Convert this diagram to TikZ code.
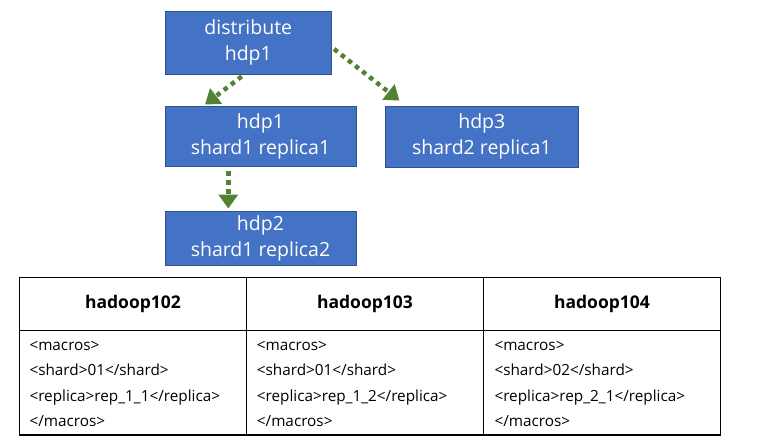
\documentclass[tikz,border=0pt]{standalone}
\usepackage{fontspec}
\setmainfont{Open Sans}
\usetikzlibrary{arrows.meta}
\definecolor{boxblue}{HTML}{4472C4}
\definecolor{boxedge}{HTML}{2F528F}
\definecolor{arrgreen}{HTML}{548235}
\begin{document}
\begin{tikzpicture}[x=1pt,y=-1pt,
  bluebox/.style={draw=boxedge,line width=0.8pt,fill=boxblue,text=white,align=center,
    inner sep=0pt,font=\fontsize{19.5}{26}\selectfont},
  dotarrow/.style={draw=arrgreen,line width=4.5pt,dash pattern=on 4.5pt off 4.5pt,
    -{Triangle[width=19pt,length=14pt]}},
  cell/.style={anchor=base west,inner sep=0pt,font=\fontsize{15.3}{18}\selectfont},
  head/.style={anchor=center,inner sep=0pt,font=\fontsize{17.5}{20}\selectfont\bfseries},
  grid/.style={line width=1.2pt,black}]
\useasboundingbox (0,0) rectangle (769,447);
\node[bluebox,minimum width=166.7pt,minimum height=63pt] (dist) at (248.3,42.5) {distribute\\hdp1};
\node[bluebox,minimum width=191pt,minimum height=60.7pt] (hdp1) at (260.5,136.3) {hdp1\\shard1 replica1};
\node[bluebox,minimum width=192.3pt,minimum height=61pt] (hdp3) at (481.8,136.5) {hdp3\\shard2 replica1};
\node[bluebox,minimum width=191pt,minimum height=54.7pt] (hdp2) at (260.5,238.3) {hdp2\\shard1 replica2};
\draw[dotarrow] ([xshift=-6.6pt,yshift=-2pt]dist.south) -- ([xshift=-55.5pt,yshift=1pt]hdp1.north);
\draw[dotarrow] ([xshift=2pt,yshift=-6.5pt]dist.east) -- ([xshift=14.2pt,yshift=5pt]hdp3.north west);
\draw[dotarrow] ([xshift=-32.2pt,yshift=-4pt]hdp1.south) -- ([xshift=-32.2pt,yshift=2pt]hdp2.north);
% table
\coordinate (tl) at (19.3,277.3);
\coordinate (br) at (720.7,435);
\draw[grid] (tl) rectangle (br);
\draw[grid] (19.3,330.7) -- (720.7,330.7);
\draw[grid] (246.7,277.3) -- (246.7,435);
\draw[grid] (483.3,277.3) -- (483.3,435);
\node[head] (h1) at (133,304) {hadoop102};
\node[head] (h2) at (365,304) {hadoop103};
\node[head] (h3) at (602,304) {hadoop104};
\foreach \x/\n/\s/\r in {29.3/a/01/1\_1, 256.7/b/01/1\_2, 494.3/c/02/2\_1}{
  \node[cell] (\n1) at (\x,350) {<macros>};
  \node[cell] (\n2) at (\x,375.5) {<shard>\s</shard>};
  \node[cell] (\n3) at (\x,401) {<replica>rep\_\r</replica>};
  \node[cell] (\n4) at (\x,426.5) {</macros>};
}
\end{tikzpicture}
\end{document}
